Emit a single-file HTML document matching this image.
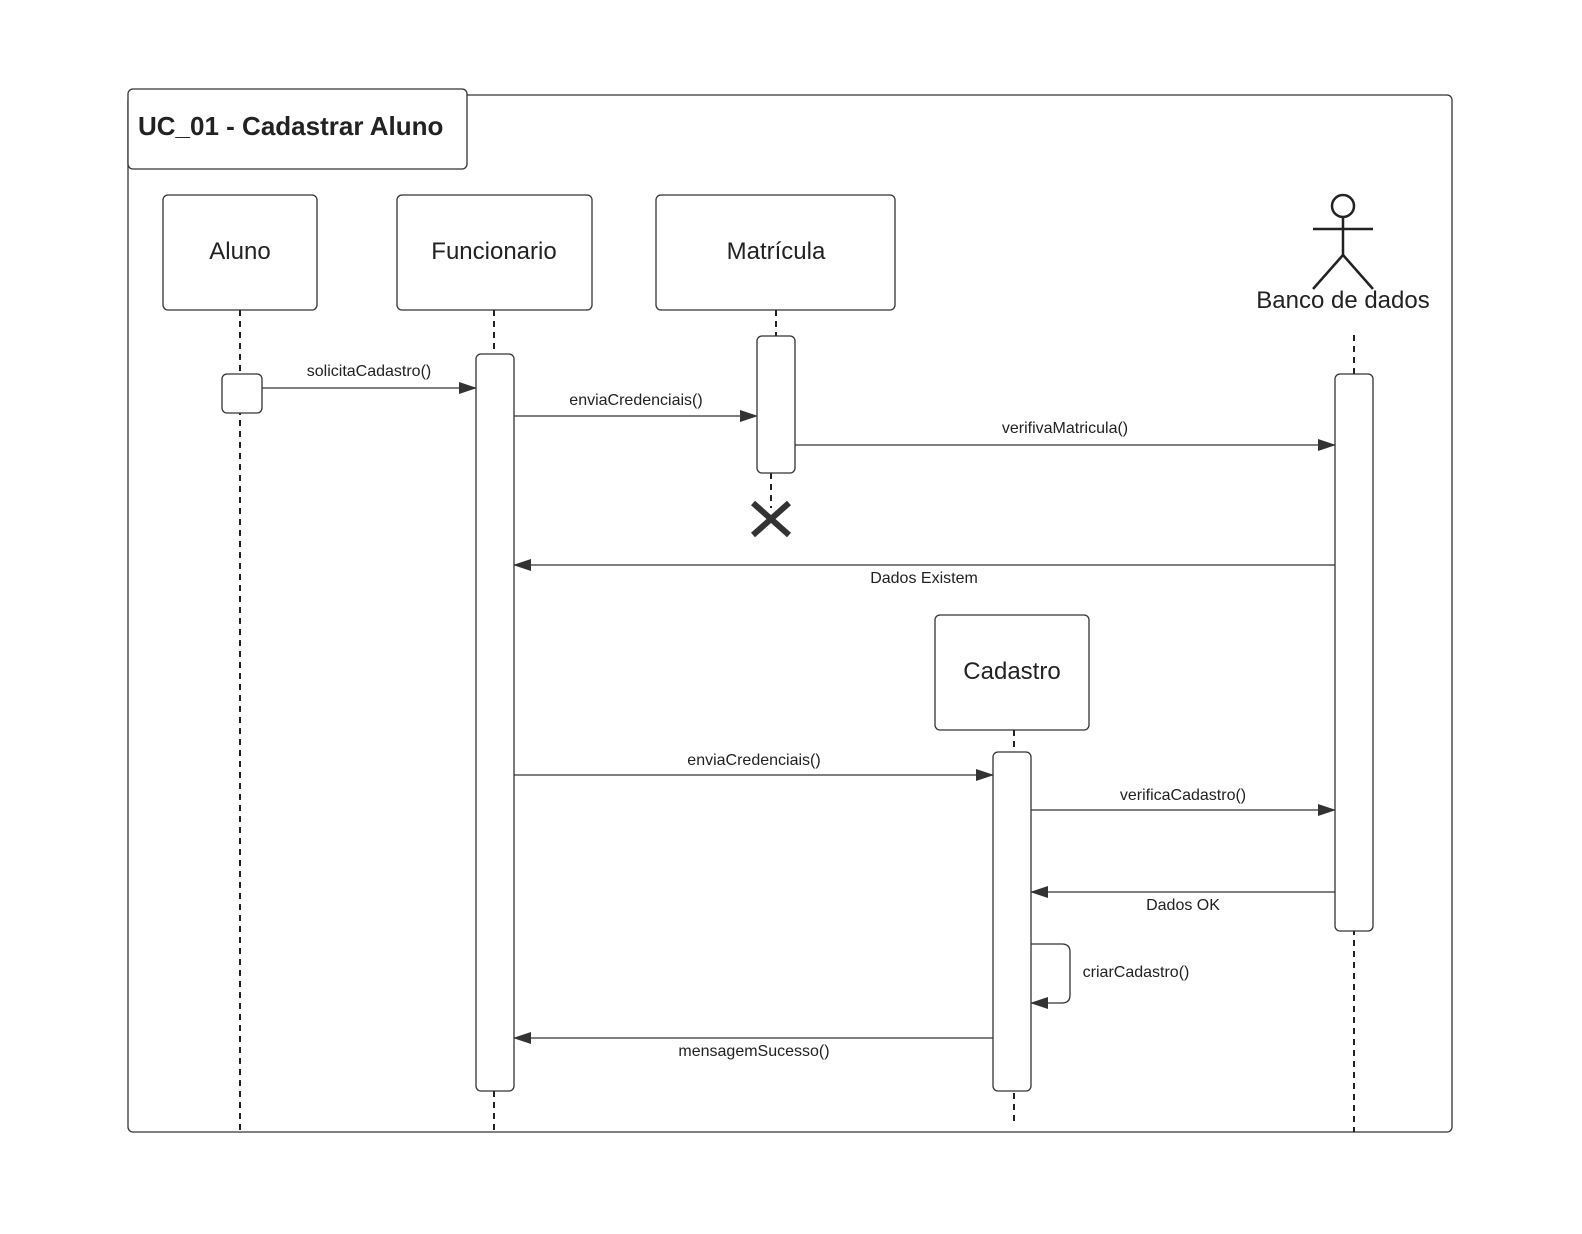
<!DOCTYPE html>
<html><head><meta charset="utf-8"><style>
html,body{margin:0;padding:0;background:#fff;}
svg{display:block;}
text{font-family:"Liberation Sans",Arial,sans-serif;fill:#222;}
</style></head><body>
<svg width="1582" height="1234" viewBox="0 0 1582 1234" xmlns="http://www.w3.org/2000/svg">
<defs>
<marker id="a" markerWidth="18" markerHeight="12" refX="17" refY="6" orient="auto" markerUnits="userSpaceOnUse">
<path d="M0,0 L18,6 L0,12 Z" fill="#333"/></marker>
</defs>
<g fill="none" stroke="#333" stroke-width="1.3">
<rect x="128" y="95" width="1324" height="1037" rx="5"/>
<rect x="128" y="89" width="339" height="80" rx="5" fill="#fff"/>
<rect x="163" y="195" width="154" height="115" rx="5"/>
<rect x="397" y="195" width="195" height="115" rx="5"/>
<rect x="656" y="195" width="239" height="115" rx="5"/>
<rect x="935" y="615" width="154" height="115" rx="5"/>
</g>
<text x="138" y="135" font-size="26" font-weight="bold">UC_01 - Cadastrar Aluno</text>
<g font-size="24" text-anchor="middle">
<text x="240" y="259">Aluno</text>
<text x="494" y="259">Funcionario</text>
<text x="776" y="259">Matrícula</text>
<text x="1012" y="679">Cadastro</text>
<text x="1343" y="308">Banco de dados</text>
</g>
<g stroke="#222" stroke-width="2.5" fill="none">
<circle cx="1343" cy="206" r="11"/>
<line x1="1343" y1="217" x2="1343" y2="255"/>
<line x1="1313" y1="229" x2="1373" y2="229"/>
<line x1="1343" y1="255" x2="1313" y2="289"/>
<line x1="1343" y1="255" x2="1373" y2="289"/>
</g>
<g stroke="#222" stroke-width="2" stroke-dasharray="6,5">
<line x1="240" y1="310" x2="240" y2="1132"/>
<line x1="494" y1="310" x2="494" y2="1132"/>
<line x1="776" y1="310" x2="776" y2="336"/>
<line x1="771" y1="473" x2="771" y2="508"/>
<line x1="1354" y1="335" x2="1354" y2="1132"/>
<line x1="1014" y1="730" x2="1014" y2="1126"/>
</g>
<g fill="#fff" stroke="#333" stroke-width="1.3">
<rect x="222" y="374" width="40" height="39" rx="5"/>
<rect x="476" y="354" width="38" height="737" rx="5"/>
<rect x="757" y="336" width="38" height="137" rx="5"/>
<rect x="1335" y="374" width="38" height="557" rx="5"/>
<rect x="993" y="752" width="38" height="339" rx="5"/>
</g>
<g stroke="#333" stroke-width="6">
<line x1="753" y1="503" x2="789" y2="535"/>
<line x1="789" y1="503" x2="753" y2="535"/>
</g>
<g stroke="#333" stroke-width="1.3" fill="none" marker-end="url(#a)">
<line x1="262" y1="388" x2="476" y2="388"/>
<line x1="514" y1="416" x2="757" y2="416"/>
<line x1="795" y1="445" x2="1335" y2="445"/>
<line x1="1335" y1="565" x2="514" y2="565"/>
<line x1="514" y1="775" x2="993" y2="775"/>
<line x1="1031" y1="810" x2="1335" y2="810"/>
<line x1="1335" y1="892" x2="1031" y2="892"/>
<path d="M1031,944 L1062,944 Q1070,944 1070,952 L1070,995 Q1070,1003 1062,1003 L1031,1003"/>
<line x1="993" y1="1038" x2="514" y2="1038"/>
</g>
<g font-size="16" text-anchor="middle">
<text x="369" y="376">solicitaCadastro()</text>
<text x="636" y="405">enviaCredenciais()</text>
<text x="1065" y="433">verifivaMatricula()</text>
<text x="924" y="583">Dados Existem</text>
<text x="754" y="765">enviaCredenciais()</text>
<text x="1183" y="800">verificaCadastro()</text>
<text x="1183" y="910">Dados OK</text>
<text x="1136" y="977">criarCadastro()</text>
<text x="754" y="1056">mensagemSucesso()</text>
</g>
</svg>
</body></html>
